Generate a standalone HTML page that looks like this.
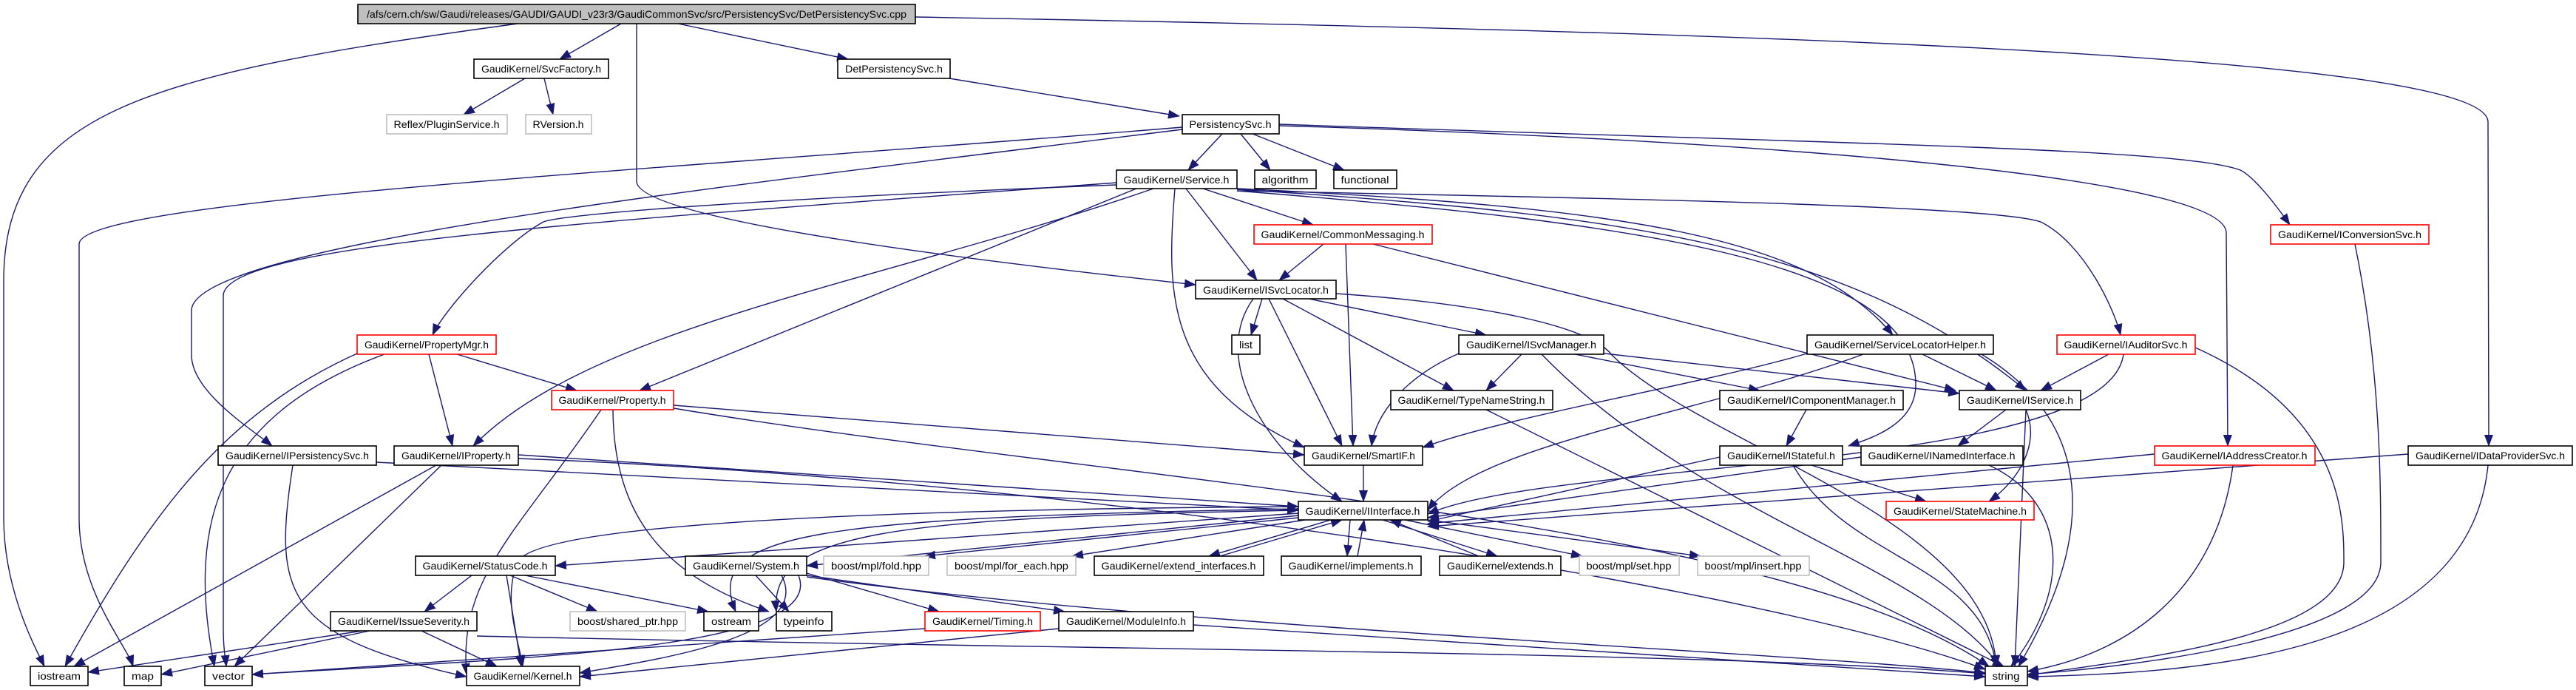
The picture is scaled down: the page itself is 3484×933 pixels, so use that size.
<!DOCTYPE html>
<html><head><meta charset="utf-8"><style>
html,body{margin:0;padding:0;background:#fff;width:3484px;height:933px;overflow:hidden}
svg text{font-family:"Liberation Sans",sans-serif;font-size:14px;fill:#000}
</style></head><body>
<svg width="3484" height="933" viewBox="0 0 3484 933" xmlns="http://www.w3.org/2000/svg">
<defs><marker id="a" markerUnits="userSpaceOnUse" markerWidth="16" markerHeight="12" refX="15" refY="6" orient="auto"><path d="M0,0 L16,6 L0,12 z" fill="#191970"/></marker></defs>
<g fill="none" stroke="#191970" stroke-width="1.4" marker-end="url(#a)">
<path d="M700 32 C200 100 5 150 5 380 L5 700 C5 800 50 880 60 901"/>
<path d="M840 32 L757 80"/>
<path d="M917 32 L1147 80"/>
<path d="M861 32 L861 245 C861 290 1200 340 1617 385"/>
<path d="M1238 23 C2500 45 3365 80 3365 165 L3366 603"/>
<path d="M710 106 L627 155"/>
<path d="M736 106 L748 155"/>
<path d="M1284 106 L1595 157"/>
<path d="M1653 181 L1607 230"/>
<path d="M1678 181 L1718 230"/>
<path d="M1694 181 L1818 230"/>
<path d="M1599 172 C900 230 107 270 107 330 L107 700 C107 800 170 870 180 901"/>
<path d="M1599 175 C1000 250 259 330 259 420 L259 480 C259 530 340 580 368 603"/>
<path d="M1730 168 C2500 195 2950 200 3030 230 C3050 240 3080 280 3097 304"/>
<path d="M1730 170 C2400 190 3011 240 3011 315 L3013 603"/>
<path d="M1510 247 C800 300 302 330 302 400 L302 850 C302 880 305 890 306 901"/>
<path d="M1510 250 C1000 270 760 290 735 300 C680 330 600 420 585 453"/>
<path d="M1537 255 L865 528"/>
<path d="M1560 255 C1200 380 800 440 640 603"/>
<path d="M1604 255 L1700 379"/>
<path d="M1627 255 L1776 304"/>
<path d="M1589 255 C1577 400 1577 520 1764 605"/>
<path d="M1673 255 C2200 280 2450 320 2560 453"/>
<path d="M1673 258 C2300 270 2700 280 2760 300 C2820 330 2860 420 2868 453"/>
<path d="M1673 256 C2200 290 2500 330 2740 528"/>
<path d="M1673 258 C2200 300 2591 350 2591 520 C2591 570 2540 590 2500 603"/>
<path d="M1790 330 L1730 379"/>
<path d="M1820 330 L1830 603"/>
<path d="M1857 330 L2645 528"/>
<path d="M1707 404 L1692 453"/>
<path d="M1770 404 L2010 453"/>
<path d="M1735 404 L1966 528"/>
<path d="M1716 404 L1815 603"/>
<path d="M1695 404 C1640 480 1700 600 1815 678"/>
<path d="M1807 397 C2000 410 2150 440 2180 480 C2300 600 2690 700 2700 901"/>
<path d="M2058 479 L2010 528"/>
<path d="M1973 478 C1900 510 1860 560 1855 603"/>
<path d="M2130 479 L2380 528"/>
<path d="M2170 478 L2650 532"/>
<path d="M2085 479 C2300 700 2600 760 2705 901"/>
<path d="M2600 479 L2700 528"/>
<path d="M2444 478 C2300 520 2050 560 1924 605"/>
<path d="M2520 479 C2300 560 2000 600 1931 690"/>
<path d="M2680 479 C2880 600 2790 800 2730 901"/>
<path d="M2852 479 L2760 528"/>
<path d="M2872 479 C2850 640 2100 620 1931 695"/>
<path d="M2969 470 C3170 560 3170 700 3170 760 C3170 860 2900 890 2742 913"/>
<path d="M3185 330 C3220 500 3220 650 3220 760 C3220 860 2900 900 2742 912"/>
<path d="M2010 554 L2710 901"/>
<path d="M2443 554 L2416 603"/>
<path d="M2713 554 L2648 603"/>
<path d="M2740 554 C2760 600 2730 650 2690 678"/>
<path d="M2740 554 L2725 901"/>
<path d="M2517 618 L1931 700"/>
<path d="M2690 629 C2800 680 2800 800 2720 901"/>
<path d="M2326 618 L1931 705"/>
<path d="M2450 629 L2605 678"/>
<path d="M2425 629 C2500 760 2680 760 2700 901"/>
<path d="M2914 614 L1931 708"/>
<path d="M3020 629 C3000 780 2900 880 2742 908"/>
<path d="M3257 614 L1931 712"/>
<path d="M3365 629 C3340 880 3000 910 2742 915"/>
<path d="M911 548 L1764 615"/>
<path d="M911 552 C1500 650 2400 700 2690 901"/>
<path d="M813 554 C700 720 620 780 631 912"/>
<path d="M829 554 C830 700 900 780 1040 827"/>
<path d="M580 479 L612 603"/>
<path d="M618 479 L780 528"/>
<path d="M483 478 C300 560 200 700 88 901"/>
<path d="M520 479 C300 560 250 700 290 901"/>
<path d="M396 629 C370 800 380 860 631 915"/>
<path d="M509 625 L1756 690"/>
<path d="M590 629 L100 901"/>
<path d="M597 629 L317 901"/>
<path d="M701 615 L1756 685"/>
<path d="M701 620 C1500 650 2400 800 2685 905"/>
<path d="M1844 629 L1844 678"/>
<path d="M1756 694 L751 765"/>
<path d="M1756 697 L1091 765"/>
<path d="M1756 700 L1250 752"/>
<path d="M1765 703 L1450 752"/>
<path d="M1800 703 L1635 752"/>
<path d="M1650 752 L1815 703"/>
<path d="M1826 703 L1822 752"/>
<path d="M1836 752 L1845 703"/>
<path d="M1870 703 L2025 752"/>
<path d="M2000 752 L1880 703"/>
<path d="M1900 703 L2140 752"/>
<path d="M1931 703 L2300 752"/>
<path d="M1756 690 C1200 700 1040 720 1050 827"/>
<path d="M1756 688 C1100 700 950 720 995 827"/>
<path d="M1756 685 C1000 690 720 720 700 760 C680 810 700 860 707 901"/>
<path d="M638 778 L574 827"/>
<path d="M685 778 L705 901"/>
<path d="M690 778 L808 827"/>
<path d="M710 778 L958 827"/>
<path d="M490 853 L119 909"/>
<path d="M500 853 L218 912"/>
<path d="M570 853 L672 901"/>
<path d="M645 860 C1500 880 2300 880 2685 911"/>
<path d="M1022 778 L1067 827"/>
<path d="M1091 775 L1270 827"/>
<path d="M1091 778 L1440 827"/>
<path d="M1057 778 C1100 860 900 890 784 910"/>
<path d="M1091 780 C1600 850 2400 880 2685 910"/>
<path d="M1080 778 C1120 880 700 890 341 912"/>
<path d="M1251 850 L341 912"/>
<path d="M1432 850 L784 915"/>
<path d="M1614 845 L2685 915"/>
</g>
<g stroke-width="1.6" fill="#fff">
<rect x="484" y="6" width="754" height="26" fill="#bfbfbf" stroke="#000"/>
<rect x="641" y="80" width="182" height="26" stroke="#000"/>
<rect x="1133" y="80" width="152" height="26" stroke="#000"/>
<rect x="523" y="155" width="163" height="26" stroke="#bfbfbf"/>
<rect x="711" y="155" width="89" height="26" stroke="#bfbfbf"/>
<rect x="1599" y="155" width="131" height="26" stroke="#000"/>
<rect x="1510" y="230" width="163" height="25" stroke="#000"/>
<rect x="1697" y="230" width="83" height="25" stroke="#000"/>
<rect x="1804" y="230" width="85" height="25" stroke="#000"/>
<rect x="1696" y="304" width="241" height="26" stroke="#ff0000"/>
<rect x="3071" y="304" width="214" height="26" stroke="#ff0000"/>
<rect x="1617" y="379" width="190" height="25" stroke="#000"/>
<rect x="483" y="453" width="188" height="26" stroke="#ff0000"/>
<rect x="1666" y="453" width="38" height="26" stroke="#000"/>
<rect x="1973" y="453" width="196" height="26" stroke="#000"/>
<rect x="2444" y="453" width="252" height="26" stroke="#000"/>
<rect x="2782" y="453" width="187" height="26" stroke="#ff0000"/>
<rect x="746" y="528" width="165" height="26" stroke="#ff0000"/>
<rect x="1881" y="528" width="219" height="26" stroke="#000"/>
<rect x="2326" y="528" width="248" height="26" stroke="#000"/>
<rect x="2650" y="528" width="164" height="26" stroke="#000"/>
<rect x="295" y="603" width="214" height="26" stroke="#000"/>
<rect x="533" y="603" width="168" height="26" stroke="#000"/>
<rect x="1764" y="603" width="160" height="26" stroke="#000"/>
<rect x="2326" y="603" width="166" height="26" stroke="#000"/>
<rect x="2517" y="603" width="219" height="26" stroke="#000"/>
<rect x="2914" y="603" width="217" height="26" stroke="#ff0000"/>
<rect x="3257" y="603" width="222" height="26" stroke="#000"/>
<rect x="1756" y="678" width="175" height="25" stroke="#000"/>
<rect x="2551" y="678" width="200" height="25" stroke="#ff0000"/>
<rect x="562" y="752" width="189" height="26" stroke="#000"/>
<rect x="927" y="752" width="164" height="26" stroke="#000"/>
<rect x="1114" y="752" width="142" height="26" stroke="#bfbfbf"/>
<rect x="1281" y="752" width="174" height="26" stroke="#bfbfbf"/>
<rect x="1480" y="752" width="229" height="26" stroke="#000"/>
<rect x="1733" y="752" width="189" height="26" stroke="#000"/>
<rect x="1947" y="752" width="164" height="26" stroke="#000"/>
<rect x="2136" y="752" width="135" height="26" stroke="#bfbfbf"/>
<rect x="2296" y="752" width="151" height="26" stroke="#bfbfbf"/>
<rect x="447" y="827" width="198" height="26" stroke="#000"/>
<rect x="771" y="827" width="156" height="26" stroke="#bfbfbf"/>
<rect x="952" y="827" width="74" height="26" stroke="#000"/>
<rect x="1050" y="827" width="75" height="26" stroke="#000"/>
<rect x="1251" y="827" width="156" height="26" stroke="#ff0000"/>
<rect x="1432" y="827" width="182" height="26" stroke="#000"/>
<rect x="41" y="901" width="78" height="26" stroke="#000"/>
<rect x="168" y="901" width="50" height="26" stroke="#000"/>
<rect x="277" y="901" width="64" height="26" stroke="#000"/>
<rect x="631" y="901" width="153" height="26" stroke="#000"/>
<rect x="2685" y="901" width="57" height="26" stroke="#000"/>
</g>
<g text-anchor="middle" lengthAdjust="spacingAndGlyphs">
<text x="861" y="24" textLength="730" lengthAdjust="spacingAndGlyphs">/afs/cern.ch/sw/Gaudi/releases/GAUDI/GAUDI_v23r3/GaudiCommonSvc/src/PersistencySvc/DetPersistencySvc.cpp</text>
<text x="732" y="98" textLength="162" lengthAdjust="spacingAndGlyphs">GaudiKernel/SvcFactory.h</text>
<text x="1209" y="98" textLength="132" lengthAdjust="spacingAndGlyphs">DetPersistencySvc.h</text>
<text x="604" y="173" textLength="143" lengthAdjust="spacingAndGlyphs">Reflex/PluginService.h</text>
<text x="755" y="173" textLength="69" lengthAdjust="spacingAndGlyphs">RVersion.h</text>
<text x="1664" y="173" textLength="111" lengthAdjust="spacingAndGlyphs">PersistencySvc.h</text>
<text x="1591" y="248" textLength="143" lengthAdjust="spacingAndGlyphs">GaudiKernel/Service.h</text>
<text x="1738" y="248" textLength="63" lengthAdjust="spacingAndGlyphs">algorithm</text>
<text x="1846" y="248" textLength="65" lengthAdjust="spacingAndGlyphs">functional</text>
<text x="1816" y="322" textLength="221" lengthAdjust="spacingAndGlyphs">GaudiKernel/CommonMessaging.h</text>
<text x="3178" y="322" textLength="194" lengthAdjust="spacingAndGlyphs">GaudiKernel/IConversionSvc.h</text>
<text x="1712" y="397" textLength="170" lengthAdjust="spacingAndGlyphs">GaudiKernel/ISvcLocator.h</text>
<text x="577" y="471" textLength="168" lengthAdjust="spacingAndGlyphs">GaudiKernel/PropertyMgr.h</text>
<text x="1685" y="471" textLength="18" lengthAdjust="spacingAndGlyphs">list</text>
<text x="2071" y="471" textLength="176" lengthAdjust="spacingAndGlyphs">GaudiKernel/ISvcManager.h</text>
<text x="2570" y="471" textLength="232" lengthAdjust="spacingAndGlyphs">GaudiKernel/ServiceLocatorHelper.h</text>
<text x="2875" y="471" textLength="167" lengthAdjust="spacingAndGlyphs">GaudiKernel/IAuditorSvc.h</text>
<text x="828" y="546" textLength="145" lengthAdjust="spacingAndGlyphs">GaudiKernel/Property.h</text>
<text x="1990" y="546" textLength="199" lengthAdjust="spacingAndGlyphs">GaudiKernel/TypeNameString.h</text>
<text x="2450" y="546" textLength="228" lengthAdjust="spacingAndGlyphs">GaudiKernel/IComponentManager.h</text>
<text x="2732" y="546" textLength="144" lengthAdjust="spacingAndGlyphs">GaudiKernel/IService.h</text>
<text x="402" y="621" textLength="194" lengthAdjust="spacingAndGlyphs">GaudiKernel/IPersistencySvc.h</text>
<text x="617" y="621" textLength="148" lengthAdjust="spacingAndGlyphs">GaudiKernel/IProperty.h</text>
<text x="1844" y="621" textLength="140" lengthAdjust="spacingAndGlyphs">GaudiKernel/SmartIF.h</text>
<text x="2409" y="621" textLength="146" lengthAdjust="spacingAndGlyphs">GaudiKernel/IStateful.h</text>
<text x="2626" y="621" textLength="199" lengthAdjust="spacingAndGlyphs">GaudiKernel/INamedInterface.h</text>
<text x="3022" y="621" textLength="197" lengthAdjust="spacingAndGlyphs">GaudiKernel/IAddressCreator.h</text>
<text x="3368" y="621" textLength="202" lengthAdjust="spacingAndGlyphs">GaudiKernel/IDataProviderSvc.h</text>
<text x="1843" y="696" textLength="155" lengthAdjust="spacingAndGlyphs">GaudiKernel/IInterface.h</text>
<text x="2651" y="696" textLength="180" lengthAdjust="spacingAndGlyphs">GaudiKernel/StateMachine.h</text>
<text x="656" y="770" textLength="169" lengthAdjust="spacingAndGlyphs">GaudiKernel/StatusCode.h</text>
<text x="1009" y="770" textLength="144" lengthAdjust="spacingAndGlyphs">GaudiKernel/System.h</text>
<text x="1185" y="770" textLength="122" lengthAdjust="spacingAndGlyphs">boost/mpl/fold.hpp</text>
<text x="1368" y="770" textLength="154" lengthAdjust="spacingAndGlyphs">boost/mpl/for_each.hpp</text>
<text x="1594" y="770" textLength="209" lengthAdjust="spacingAndGlyphs">GaudiKernel/extend_interfaces.h</text>
<text x="1827" y="770" textLength="169" lengthAdjust="spacingAndGlyphs">GaudiKernel/implements.h</text>
<text x="2029" y="770" textLength="144" lengthAdjust="spacingAndGlyphs">GaudiKernel/extends.h</text>
<text x="2203" y="770" textLength="115" lengthAdjust="spacingAndGlyphs">boost/mpl/set.hpp</text>
<text x="2371" y="770" textLength="131" lengthAdjust="spacingAndGlyphs">boost/mpl/insert.hpp</text>
<text x="546" y="845" textLength="178" lengthAdjust="spacingAndGlyphs">GaudiKernel/IssueSeverity.h</text>
<text x="849" y="845" textLength="136" lengthAdjust="spacingAndGlyphs">boost/shared_ptr.hpp</text>
<text x="989" y="845" textLength="54" lengthAdjust="spacingAndGlyphs">ostream</text>
<text x="1087" y="845" textLength="55" lengthAdjust="spacingAndGlyphs">typeinfo</text>
<text x="1329" y="845" textLength="136" lengthAdjust="spacingAndGlyphs">GaudiKernel/Timing.h</text>
<text x="1523" y="845" textLength="162" lengthAdjust="spacingAndGlyphs">GaudiKernel/ModuleInfo.h</text>
<text x="80" y="919" textLength="58" lengthAdjust="spacingAndGlyphs">iostream</text>
<text x="193" y="919" textLength="30" lengthAdjust="spacingAndGlyphs">map</text>
<text x="309" y="919" textLength="44" lengthAdjust="spacingAndGlyphs">vector</text>
<text x="707" y="919" textLength="133" lengthAdjust="spacingAndGlyphs">GaudiKernel/Kernel.h</text>
<text x="2713" y="919" textLength="37" lengthAdjust="spacingAndGlyphs">string</text>
</g>
</svg>
</body></html>
